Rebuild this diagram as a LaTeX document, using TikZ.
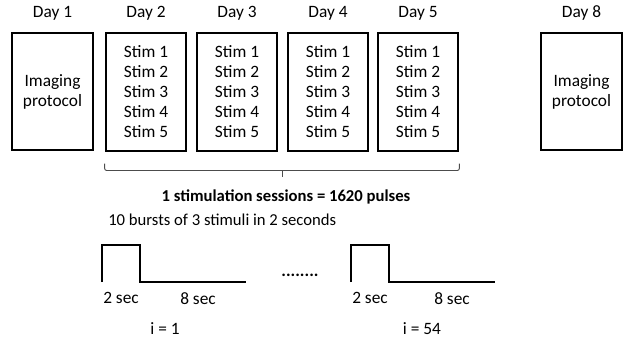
\documentclass[tikz,border=0pt]{standalone}
\usepackage{fontspec}
\setmainfont{Carlito}
\usetikzlibrary{calc}
\begin{document}
\begin{tikzpicture}[x=0.75pt,y=-0.75pt,
  daybox/.style={draw,line width=1.5pt,minimum width=60.5pt,minimum height=87.75pt,
                 inner sep=0pt,align=center,font=\fontsize{13}{15}\selectfont},
  daylabel/.style={font=\fontsize{13}{15}\selectfont,inner sep=0pt},
  lbl/.style={font=\fontsize{13}{15}\selectfont,inner sep=0pt},
  pulse/.style={line width=1.5pt,line join=miter},
  bracket/.style={draw=black!70,line width=0.7pt,rounded corners=1.5pt}]
\useasboundingbox (0,0) rectangle (628,346);

% session boxes
\node[daybox] (b1) at (52.5,91.5) {Imaging\\protocol};
\node[daybox] (b2) at (146,92) {Stim 1\\Stim 2\\Stim 3\\Stim 4\\Stim 5};
\node[daybox] (b3) at (237,92) {Stim 1\\Stim 2\\Stim 3\\Stim 4\\Stim 5};
\node[daybox] (b4) at (328,92) {Stim 1\\Stim 2\\Stim 3\\Stim 4\\Stim 5};
\node[daybox] (b5) at (418,92) {Stim 1\\Stim 2\\Stim 3\\Stim 4\\Stim 5};
\node[daybox] (b8) at (581.5,91.5) {Imaging\\protocol};

% day headers
\foreach \b/\d in {b1/1,b2/2,b3/3,b4/4,b5/5,b8/8}
  \node[daylabel] (l\b) at (\b.center |- 0,13) {Day \d};

% bracket under the stimulation days
\coordinate (brL) at ($(b2.south west)+(0,12)$);
\coordinate (brR) at ($(b5.south east)+(0,12)$);
\draw[bracket] (brL) -- ++(0,7) -| (brR);
\draw[draw=black!70,line width=0.7pt] ($(brL)!0.5!(brR)+(0,7)$) -- ++(0,6);

\node[lbl,font=\fontsize{12.5}{15}\selectfont\bfseries] (sess) at (286,197) {1 stimulation sessions = 1620 pulses};
\node[lbl,anchor=west,font=\fontsize{12.5}{15}\selectfont] (burst) at (108,220) {10 bursts of 3 stimuli in 2 seconds};

% first pulse train
\draw[pulse] (102,282) -- (102,245) -- (140,245) -- (140,282) -- (246,282);
\node[lbl] (s1a) at (121,298) {2 sec};
\node[lbl] (s1b) at (198,299) {8 sec};
\node[lbl] (i1) at (165,329) {i = 1};

\node[lbl,anchor=base,font=\fontsize{13}{15}\selectfont\bfseries] (dots) at (300,276) {........};

% last pulse train
\draw[pulse] (351,282) -- (351,245) -- (389,245) -- (389,282) -- (495,282);
\node[lbl] (s2a) at (370,298) {2 sec};
\node[lbl] (s2b) at (452,299) {8 sec};
\node[lbl] (i54) at (422,329) {i = 54};
\end{tikzpicture}
\end{document}
